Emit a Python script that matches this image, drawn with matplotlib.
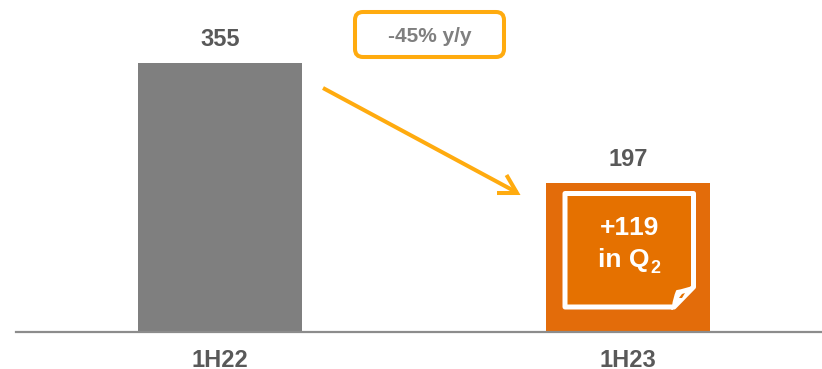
import matplotlib
matplotlib.use("Agg")
import matplotlib.pyplot as plt
from matplotlib.patches import FancyBboxPatch, PathPatch, Polygon
from matplotlib.path import Path

plt.rcParams['font.family'] = ['Liberation Sans', 'DejaVu Sans']
plt.rcParams['text.kerning_factor'] = 6

categories = ["1H22", "1H23"]
values = [355, 197]
bar_colors = ["#7F7F7F", "#E36C0A"]
change_label = "-45% y/y"
note_line1 = "+119"
note_line2 = "in Q"
note_sub = "2"

W, H = 822, 369
px = 1 / 100
fig = plt.figure(figsize=(W * px, H * px), dpi=100)
fig.patch.set_facecolor("white")

base_y = 332
ax = fig.add_axes([16 / W, (H - base_y) / H, (W - 16) / W, base_y / H])
ax.set_xlim(-(220 - 16) / 408, (W - 220) / 408)
ax.set_ylim(0, base_y * 355 / 269)
ax.patch.set_alpha(0)
positions = list(range(len(categories)))
bars = ax.bar(positions, values, width=164 / 408, color=bar_colors, linewidth=0, zorder=2)
for s in ["top", "right", "left"]:
    ax.spines[s].set_visible(False)
ax.spines["bottom"].set_color("#8C8C8C")
ax.spines["bottom"].set_linewidth(1.6)
ax.spines["bottom"].set_zorder(3)
ax.set_yticks([])
ax.set_xticks(positions)
ax.set_xticklabels(categories, fontsize=17, fontweight="bold", color="#595959")
ax.tick_params(axis="x", length=0, pad=12)
for x, v in zip(positions, values):
    ax.annotate(str(v), (x, v), xytext=(0, 12), textcoords="offset points",
                ha="center", va="baseline", fontsize=17, fontweight="bold", color="#595959")

# overlay in pixel coordinates for callouts
ov = fig.add_axes([0, 0, 1, 1])
ov.set_xlim(0, W)
ov.set_ylim(H, 0)
ov.axis("off")
ov.patch.set_alpha(0)

amber = "#FFAB0F"
ov.add_patch(FancyBboxPatch((355, 12), 149, 45, boxstyle="round,pad=0,rounding_size=8",
                            fc="white", ec=amber, lw=2.9, mutation_aspect=1))
ov.text(429.5, 42, change_label, ha="center", va="baseline", fontsize=15,
        fontweight="bold", color="#7F7F7F")

ov.plot([323, 517], [88, 192.5], color=amber, lw=2.9, solid_capstyle="butt")
ov.plot([506.5, 517, 497], [175, 193, 193], color=amber, lw=2.9, solid_joinstyle="miter",
        solid_capstyle="butt")

note = Polygon([(565, 193.5), (693.5, 193.5), (693.5, 287), (674, 307), (565, 307)], closed=True,
               fc="#E57100", ec="white", lw=3.6, joinstyle="round")
ov.add_patch(note)
fold = Path([(695, 286), (684, 290), (677, 291), (674, 298), (673, 306), (672, 309), (695, 286)],
            [Path.MOVETO, Path.CURVE3, Path.CURVE3, Path.CURVE3, Path.CURVE3, Path.LINETO, Path.CLOSEPOLY])
ov.add_patch(PathPatch(fold, fc="white", ec="white", lw=1.4, joinstyle="round"))
ov.add_patch(Polygon([(679, 298), (682, 294), (685, 293), (682, 298)], closed=True,
                     fc="#E57100", ec="none"))

ov.text(629.5, 235, note_line1, ha="center", va="baseline", fontsize=19, fontweight="bold", color="white")
ov.text(598, 266.5, note_line2, ha="left", va="baseline", fontsize=19, fontweight="bold", color="white")
ov.text(650, 273, note_sub, ha="left", va="baseline", fontsize=13, fontweight="bold", color="white")

fig.savefig("out.png", dpi=100)
